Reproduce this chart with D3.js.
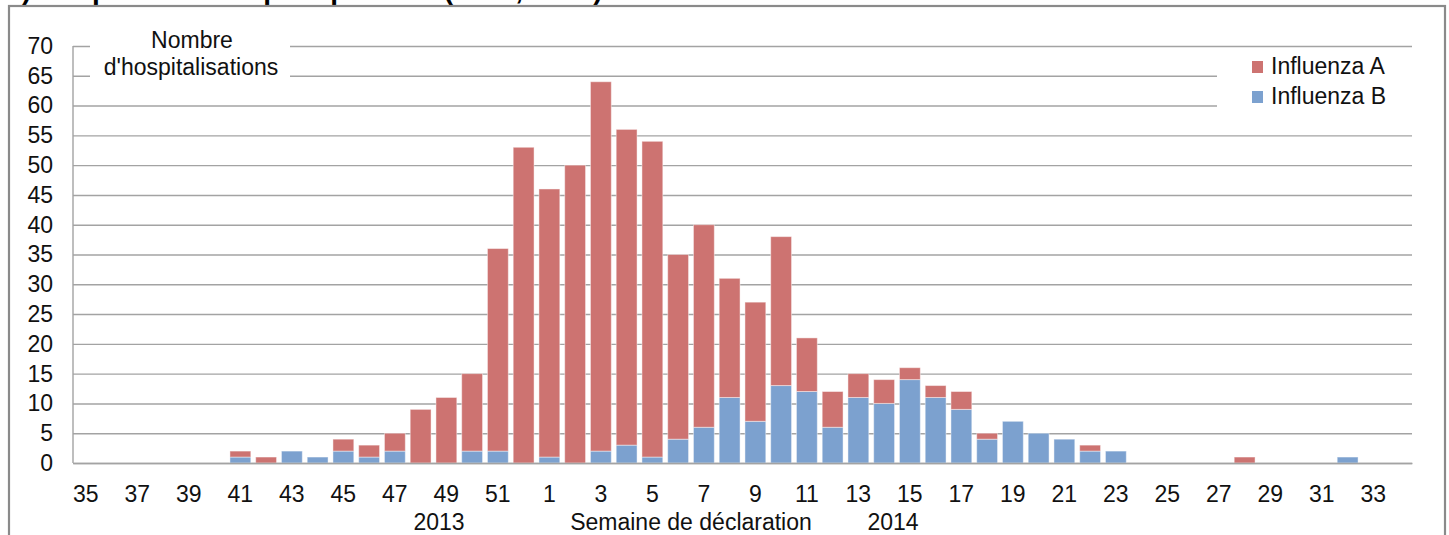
<!DOCTYPE html>
<html>
<head>
<meta charset="utf-8">
<script src="https://cdn.jsdelivr.net/npm/d3@7"></script>
<style>
  body { margin: 0; background: #ffffff; }
  svg { display: block; font-family: "Liberation Sans", Arial, sans-serif; }
</style>
</head>
<body>
<svg id="chart" width="1449" height="535"></svg>
<script>
// ---- Data ----
const weeks = [
  "35","36","37","38","39","40","41","42","43","44","45","46","47","48","49","50","51","52",
  "1","2","3","4","5","6","7","8","9","10","11","12","13","14","15","16","17","18","19","20",
  "21","22","23","24","25","26","27","28","29","30","31","32","33","34"
];
const influenzaA = [
  0,0,0,0,0,0,1,1,0,0,2,2,3,9,11,13,34,53,
  45,50,62,53,53,31,34,20,20,25,9,6,4,4,2,2,3,1,0,0,
  0,1,0,0,0,0,0,1,0,0,0,0,0,0
];
const influenzaB = [
  0,0,0,0,0,0,1,0,2,1,2,1,2,0,0,2,2,0,
  1,0,2,3,1,4,6,11,7,13,12,6,11,10,14,11,9,4,7,5,
  4,2,2,0,0,0,0,0,0,0,0,1,0,0
];
const seriesNames = ["Influenza A", "Influenza B"];
const yTicks = [0,5,10,15,20,25,30,35,40,45,50,55,60,65,70];
const xTickLabels = weeks.filter((w, i) => i % 2 === 0 && i < 51);
const yearLabels = ["2013", "2014"];
const xTitle = "Semaine de déclaration";
const yTitle = ["Nombre", "d'hospitalisations"];
const chartTitle = "b) Hospitalisations par épidémie (2013, 2014)";

// ---- Layout ----
const svg = d3.select("#chart");
const plotLeft = 73, plotRight = 1412, plotTop = 46, plotBottom = 463;
const colorA = "#cd7371", colorB = "#7ca1cf";
const gridColor = "#a3a3a3";
const textColor = "#111111";
const fs = 23;

const x = d3.scaleBand().domain(weeks).range([plotLeft, plotRight]).paddingInner(0.19).paddingOuter(0.095);
const y = d3.scaleLinear().domain([0, 70]).range([plotBottom, plotTop]);

// clipped title at the top
svg.append("text")
  .attr("x", 5).attr("y", -1)
  .attr("font-size", 28).attr("font-weight", "bold")
  .attr("fill", "#000")
  .text(chartTitle);

// outer frame
svg.append("rect")
  .attr("x", 9).attr("y", 6).attr("width", 1436).attr("height", 600)
  .attr("fill", "none").attr("stroke", "#8a8a8a").attr("stroke-width", 2.2);

// y axis + gridlines
const yAxis = svg.append("g")
  .attr("transform", `translate(${plotLeft},0)`)
  .call(d3.axisLeft(y).tickValues(yTicks).tickSize(-(plotRight - plotLeft)).tickPadding(20));
yAxis.select(".domain").remove();
yAxis.selectAll(".tick line").attr("stroke", gridColor).attr("stroke-width", 1.4);
yAxis.selectAll(".tick text")
  .attr("font-size", fs).attr("fill", textColor)
  .attr("font-family", "Liberation Sans, Arial, sans-serif");

// y axis vertical line
svg.append("line")
  .attr("x1", plotLeft).attr("x2", plotLeft).attr("y1", plotTop).attr("y2", plotBottom)
  .attr("stroke", gridColor).attr("stroke-width", 1.4);

// white box behind y title
svg.append("rect")
  .attr("x", 90).attr("y", 28).attr("width", 200).attr("height", 56)
  .attr("fill", "#fff");
svg.append("text")
  .attr("x", 192).attr("y", 48)
  .attr("text-anchor", "middle").attr("font-size", fs).attr("fill", textColor)
  .text(yTitle[0]);
svg.append("text")
  .attr("x", 191).attr("y", 75)
  .attr("text-anchor", "middle").attr("font-size", fs).attr("fill", textColor)
  .text(yTitle[1]);

// stacked bars
const rows = weeks.map((w, i) => ({ week: w, "Influenza B": influenzaB[i], "Influenza A": influenzaA[i] }));
const stack = d3.stack().keys(["Influenza B", "Influenza A"]);
const layers = stack(rows);
const colorOf = { "Influenza A": colorA, "Influenza B": colorB };

svg.append("g").selectAll("g")
  .data(layers)
  .join("g")
  .attr("fill", d => colorOf[d.key])
  .selectAll("rect")
  .data(d => d.filter(s => s[1] - s[0] > 0))
  .join("rect")
  .attr("x", d => x(d.data.week))
  .attr("width", x.bandwidth())
  .attr("y", d => y(d[1]))
  .attr("height", d => y(d[0]) - y(d[1]))
  .attr("stroke", "rgba(255,255,255,0.45)")
  .attr("stroke-width", 1);

// x axis
const xAxis = svg.append("g")
  .attr("transform", `translate(0,${plotBottom})`)
  .call(d3.axisBottom(x).tickValues(xTickLabels).tickSize(0).tickPadding(23));
xAxis.select(".domain").attr("stroke", gridColor).attr("stroke-width", 1.4);
xAxis.selectAll(".tick text")
  .attr("font-size", fs).attr("fill", textColor)
  .attr("font-family", "Liberation Sans, Arial, sans-serif");

// x titles
svg.append("text").attr("x", 439).attr("y", 530)
  .attr("text-anchor", "middle").attr("font-size", fs).attr("fill", textColor)
  .text(yearLabels[0]);
svg.append("text").attr("x", 691).attr("y", 530)
  .attr("text-anchor", "middle").attr("font-size", fs).attr("fill", textColor)
  .text(xTitle);
svg.append("text").attr("x", 893).attr("y", 530)
  .attr("text-anchor", "middle").attr("font-size", fs).attr("fill", textColor)
  .text(yearLabels[1]);

// legend
svg.append("rect")
  .attr("x", 1217).attr("y", 54).attr("width", 200).attr("height", 60)
  .attr("fill", "#fff");
const legend = svg.append("g");
seriesNames.forEach((name, i) => {
  legend.append("rect")
    .attr("x", 1252).attr("y", 61 + i * 30).attr("width", 11).attr("height", 12)
    .attr("fill", colorOf[name]);
  legend.append("text")
    .attr("x", 1271).attr("y", 74 + i * 30)
    .attr("font-size", fs).attr("fill", textColor)
    .text(name);
});
</script>
</body>
</html>
